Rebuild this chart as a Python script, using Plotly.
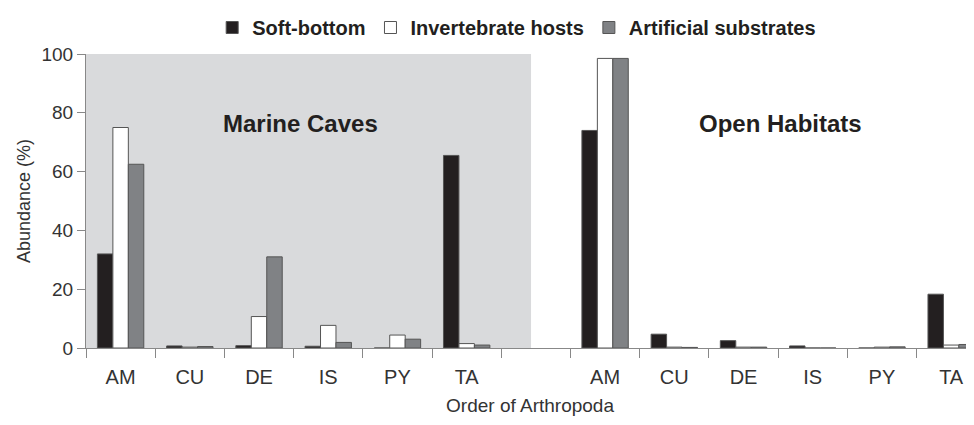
import plotly.graph_objects as go

orders = ["AM", "CU", "DE", "IS", "PY", "TA"]
series = ["Soft-bottom", "Invertebrate hosts", "Artificial substrates"]

# abundance (%) per order, marine caves then open habitats
caves_soft = [32, 0.7, 0.8, 0.6, 0, 65.5]
caves_inv = [75, 0.3, 10.7, 7.7, 4.4, 1.5]
caves_art = [62.5, 0.5, 31, 1.9, 3.0, 1.0]

open_soft = [74, 4.7, 2.5, 0.7, 0, 18.3]
open_inv = [98.5, 0.3, 0.3, 0, 0.3, 1.0]
open_art = [98.5, 0.2, 0.3, 0, 0.4, 1.2]

colors = ["#231f20", "#ffffff", "#808285"]

x_caves = list(range(6))
x_open = list(range(7, 13))
xs = x_caves + x_open
vals = [caves_soft + open_soft, caves_inv + open_inv, caves_art + open_art]

fig = go.Figure()
for name, col, v in zip(series, colors, vals):
    fig.add_trace(go.Bar(x=xs, y=v, name=name,
                         marker={"color": col, "line": {"color": "#555555", "width": 1}}))

# grey panel behind the cave groups
fig.add_shape(type="rect", xref="x", yref="y", x0=-0.5, x1=5.93, y0=0, y1=100,
              fillcolor="#d9dadc", line={"width": 0}, layer="below")

fig.add_annotation(x=2.6, y=76.3, text="<b>Marine Caves</b>", showarrow=False,
                   font={"size": 24, "color": "#231f20"})
fig.add_annotation(x=9.53, y=76.3, text="<b>Open Habitats</b>", showarrow=False,
                   font={"size": 24, "color": "#231f20"})

fig.update_layout(
    width=966, height=417,
    margin={"l": 78, "r": 0, "t": 44, "b": 77},
    plot_bgcolor="white", paper_bgcolor="white",
    font={"family": "Liberation Sans, Arial, sans-serif", "color": "#333333"},
    barmode="group", bargap=0.33, bargroupgap=0,
    showlegend=True,
    legend={"orientation": "h", "x": 0.485, "xanchor": "center", "y": 1.091, "yanchor": "middle",
            "font": {"size": 20, "color": "#231f20", "weight": "bold"},
            "traceorder": "normal", "itemwidth": 30},
)
fig.update_xaxes(
    range=[-0.5, 12.33], tickmode="array", tickvals=xs, ticktext=orders + orders,
    ticks="", showgrid=False, zeroline=False,
    showline=True, linecolor="#888888", linewidth=1,
    tickfont={"size": 20}, ticklabelstandoff=11,
    minor={"ticks": "outside", "ticklen": 9, "tickcolor": "#888888", "tickmode": "linear",
           "tick0": -0.5, "dtick": 1, "showgrid": False},
    title={"text": "Order of Arthropoda", "font": {"size": 19}, "standoff": 11},
)
fig.update_yaxes(
    range=[0, 100], tickvals=[0, 20, 40, 60, 80, 100], ticks="outside", ticklen=8,
    tickcolor="#888888", showgrid=False, zeroline=False,
    showline=True, linecolor="#888888", linewidth=1,
    tickfont={"size": 19},
    title={"text": "Abundance (%)", "font": {"size": 18}, "standoff": 6},
)

fig.write_html("out.html")
